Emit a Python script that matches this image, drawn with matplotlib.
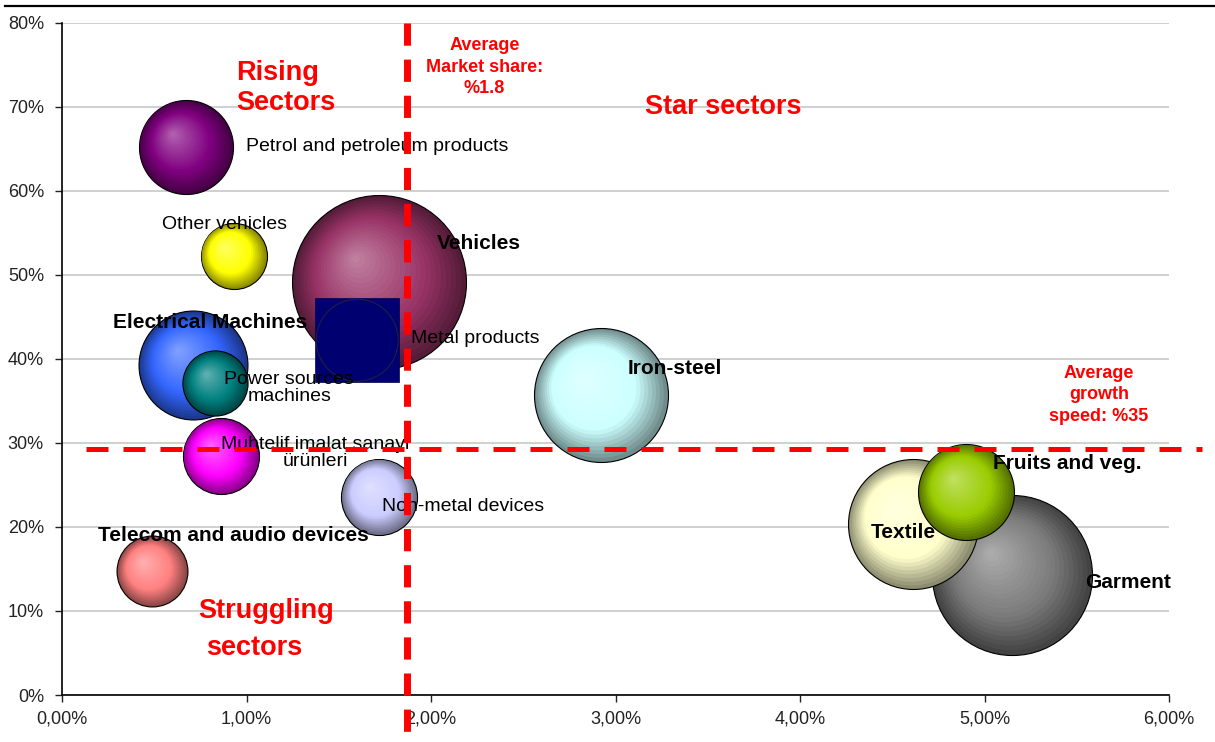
import numpy as np
import matplotlib
matplotlib.use('Agg')
import matplotlib.pyplot as plt
from matplotlib import transforms
from matplotlib.colors import to_rgb
from matplotlib.lines import Line2D
from matplotlib.ticker import FuncFormatter, MultipleLocator

plt.rcParams['font.family'] = ['Liberation Sans', 'DejaVu Sans']

# Sector data (x = market share %, y = growth %, bubble size = relative volume)
sectors = ['Petrol and petroleum products', 'Other vehicles', 'Vehicles', 'Metal products',
           'Electrical Machines', 'Power sources\nmachines', 'Muhtelif imalat sanayi\nürünleri',
           'Non-metal devices', 'Telecom and audio devices', 'Iron-steel', 'Garment',
           'Textile', 'Fruits and veg.']
market_share = [0.67, 0.93, 1.72, 1.60, 0.71, 0.83, 0.86, 1.72, 0.49, 2.92, 5.15, 4.61, 4.90]
growth = [65.2, 52.2, 49.1, 42.2, 39.2, 37.1, 28.4, 23.6, 14.7, 35.7, 14.3, 20.3, 24.2]
bubble_size = [29.2, 14.4, 100.0, 22.2, 39.2, 14.0, 19.1, 19.1, 16.6, 59.3, 84.6, 55.8, 30.4]
colors = ['#800080', '#FFFF00', '#993366', '#000080', '#3366FF', '#008080', '#FF00FF',
          '#CCCCFF', '#FF8080', '#CCFFFF', '#7a7a7a', '#FFFFCC', '#99CC00']
bold = [False, False, True, False, True, False, False, False, True, True, True, True, True]

avg_share = 1.87
avg_growth = 29.3

# label placement: offset in pixels from bubble centre, horizontal alignment
label_offsets = [(60, 0, 'left'), (-9, 32, 'center'), (58, 39, 'left'), (54, 2, 'left'),
                 (-80, 43, 'left'), (74, -5, 'center'), (95, 3, 'center'), (3, -10, 'left'),
                 (-54, 36, 'left'), (27, 26, 'left'), (73, -8, 'left'), (-42, -8, 'left'),
                 (27, 28, 'left')]

fig = plt.figure(figsize=(12.15, 7.42), dpi=100)
ax = fig.add_axes([62 / 1215, 47 / 742, (1169 - 62) / 1215, (695 - 22.5) / 742])
ax.set_xlim(0, 6)
ax.set_ylim(0, 80)


def mix(a, b, t):
    return tuple(a[i] + (b[i] - a[i]) * t for i in range(3))


n_layers = 22
for i in range(len(sectors)):
    base = to_rgb(colors[i])
    dark = tuple(c * 0.55 for c in base)
    light = tuple(c + (1 - c) * 0.4 for c in base)
    r_pt = 87 * np.sqrt(bubble_size[i] / 100) * 0.72
    if sectors[i] == 'Metal products':
        ax.scatter([market_share[i]], [growth[i]], s=(2 * r_pt * 1.03) ** 2, marker='s',
                   color='#000070', edgecolors='#000050', linewidths=0.5, zorder=2)
        ax.scatter([market_share[i]], [growth[i]], s=(2 * r_pt) ** 2, marker='o',
                   facecolors='none', edgecolors='#202040', linewidths=0.8, zorder=2)
        continue
    for k in range(n_layers):
        t = k / n_layers
        if t < 0.35:
            col = mix(dark, base, t / 0.35)
        else:
            col = mix(base, light, (t - 0.35) / 0.65)
        rad = r_pt * (1 - t)
        off = 0.28 * r_pt * t
        tr = transforms.offset_copy(ax.transData, fig=fig, x=-off, y=off, units='points')
        ax.scatter([market_share[i]], [growth[i]], s=(2 * rad) ** 2, color=col,
                   edgecolors='black' if k == 0 else 'none', linewidths=0.8,
                   transform=tr, zorder=2)

# bubble labels
for i in range(len(sectors)):
    dx, dy, ha = label_offsets[i]
    ax.annotate(sectors[i], (market_share[i], growth[i]), xytext=(dx, dy),
                textcoords='offset pixels', ha=ha, va='center', multialignment='center',
                fontsize=15 if bold[i] else 14, fontweight='bold' if bold[i] else 'normal',
                color='black', zorder=3, linespacing=1.0)

# average lines
ax.plot([avg_share, avg_share], [80, -5.6], color='#FF0000', lw=5, dashes=(3.2, 2.0),
        solid_capstyle='butt', dash_capstyle='butt', clip_on=False, zorder=5)
ax.plot([0.13, 6.18], [avg_growth, avg_growth], color='#FF0000', lw=3.6, dashes=(4.4, 3.0),
        dash_capstyle='butt', clip_on=False, zorder=5)

# quadrant titles
ax.text(0.943, 72.15, 'Rising\nSectors', color='#FF0000', fontsize=19.5, fontweight='bold',
        ha='left', va='center', linespacing=1.2)
ax.text(3.16, 69.95, 'Star sectors', color='#FF0000', fontsize=19.5, fontweight='bold',
        ha='left', va='center')
ax.text(1.107, 10.0, 'Struggling', color='#FF0000', fontsize=19.5, fontweight='bold',
        ha='center', va='center')
ax.text(1.041, 5.6, 'sectors', color='#FF0000', fontsize=19.5, fontweight='bold',
        ha='center', va='center')
ax.text(2.29, 74.7, 'Average\nMarket share:\n%1.8', color='#FF0000', fontsize=13,
        fontweight='bold', ha='center', va='center', multialignment='center', linespacing=1.35)
ax.text(5.62, 35.7, 'Average\ngrowth\nspeed: %35', color='#FF0000', fontsize=13,
        fontweight='bold', ha='center', va='center', multialignment='center', linespacing=1.35)

# axes styling
ax.xaxis.set_major_locator(MultipleLocator(1))
ax.yaxis.set_major_locator(MultipleLocator(10))
ax.xaxis.set_major_formatter(FuncFormatter(lambda v, p: f'{v:.2f}%'.replace('.', ',')))
ax.yaxis.set_major_formatter(FuncFormatter(lambda v, p: f'{v:.0f}%'))
ax.grid(axis='y', color='#c4c4c4', lw=1.1)
ax.set_axisbelow(True)
for s in ['top', 'right']:
    ax.spines[s].set_visible(False)
for s in ['left', 'bottom']:
    ax.spines[s].set_linewidth(1.2)
ax.tick_params(direction='out', length=5, width=1.0, labelsize=13, colors='#222222')
ax.tick_params(axis='y', pad=8)
ax.tick_params(axis='x', pad=6)

# top rule line
fig.add_artist(Line2D([5 / 1215, 1214 / 1215], [1 - 6 / 742, 1 - 6 / 742], color='black', lw=1.6))

fig.savefig('out.png', dpi=100)
